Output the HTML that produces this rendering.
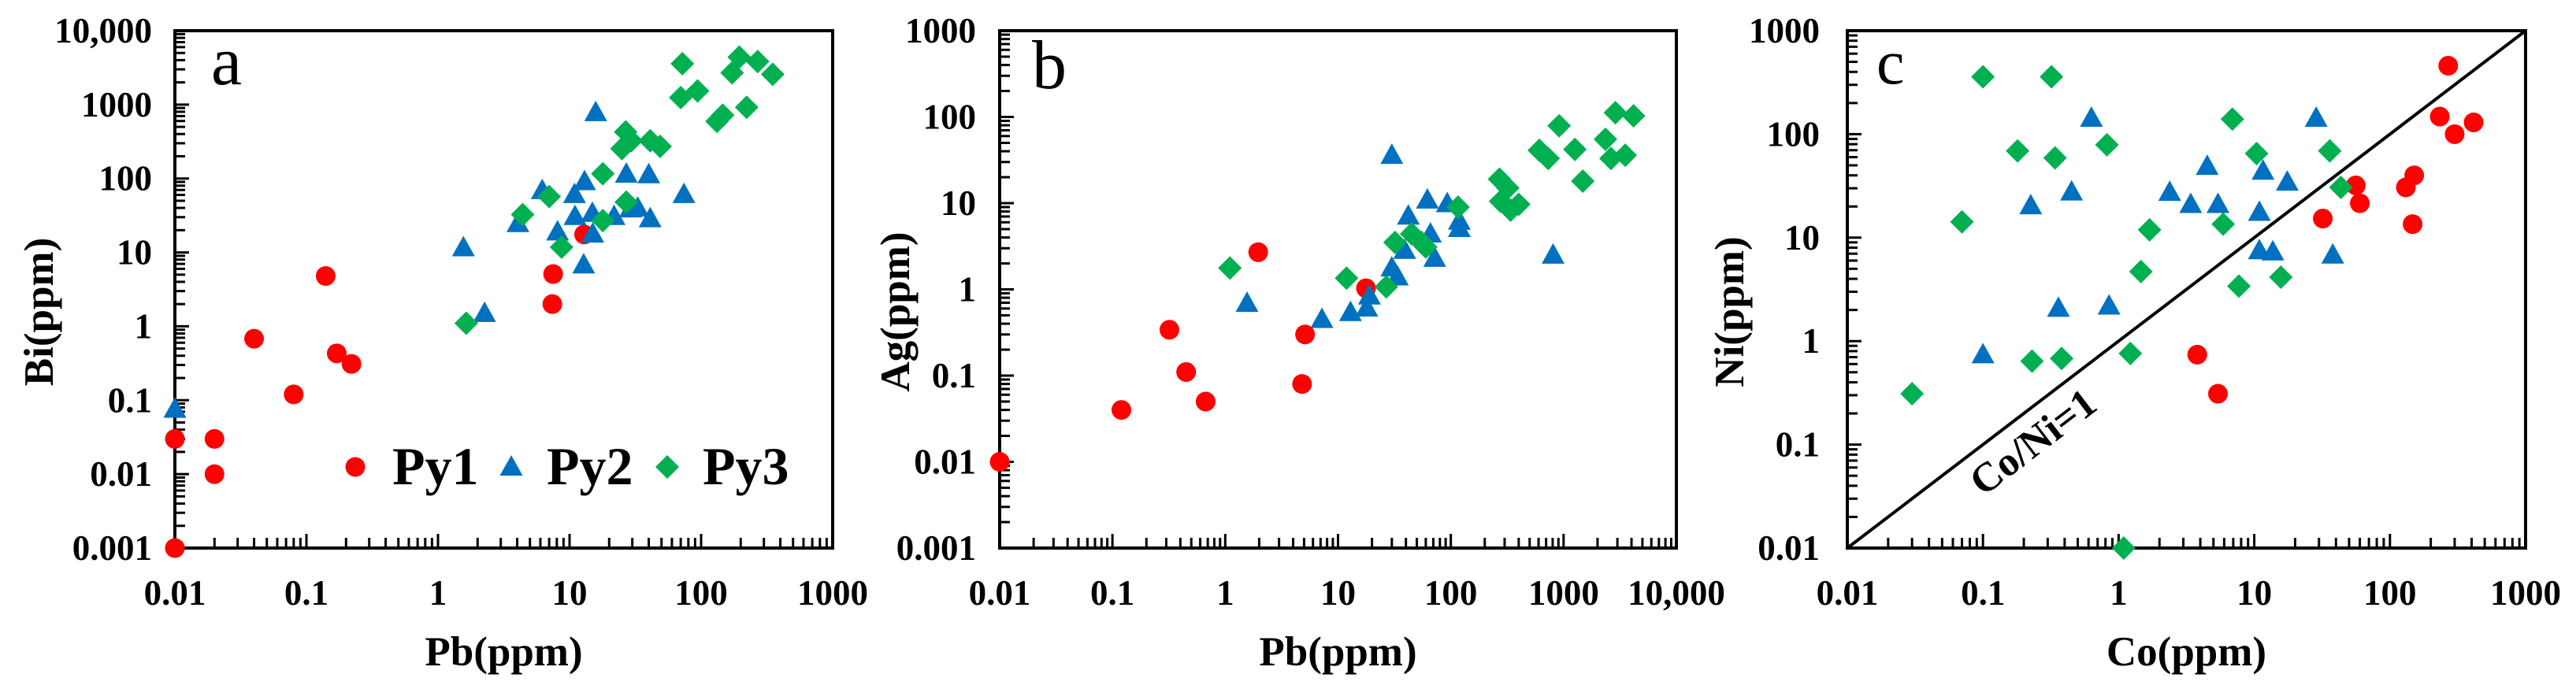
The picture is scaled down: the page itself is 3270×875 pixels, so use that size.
<!DOCTYPE html>
<html><head><meta charset="utf-8"><style>
html,body{margin:0;padding:0;background:#fff;}
svg{display:block;font-family:"Liberation Serif","Times New Roman","DejaVu Serif",serif;}
svg text{font-family:"Liberation Serif","Times New Roman","DejaVu Serif",serif !important;font-weight:bold;fill:#000;}
svg text.normal{font-weight:normal;}
</style></head><body>
<svg id="chart" width="3270" height="875" viewBox="0 0 3270 875" xmlns="http://www.w3.org/2000/svg" font-family="Liberation Serif, serif"></svg>
<script>
// ---------- Panel a: Pb vs Bi ----------
const aPy1Pb=[0.01,0.02,0.02,0.01,0.04,0.08,0.14,0.17,0.22,7.5,7.4,12.9];
const aPy1Bi=[0.03,0.03,0.01,0.001,0.68,0.12,4.8,0.43,0.31,5.1,2.0,17.5];
const aPy2Pb=[0.01,1.56,2.26,4.05,6.2,8.1,10.9,11,13,12.8,14.9,15,15.8,21.8,27,29,33,40,41,74];
const aPy2Bi=[0.076,11.6,1.5,24.7,69,19,61,30.8,91,6.8,34,17.8,782,30.8,115,39,40,113,28.7,61];
const aPy3Pb=[1.64,4.4,7.0,8.7,17.9,17.9,25,26.7,29.4,27,41,48.8,72,70,94,132,146,172,195,222,269,350];
const aPy3Bi=[1.1,32.5,57,11.8,116,27,254,427,324,48,324,272,3580,1245,1530,594,720,2690,4400,920,3830,2570];
const aXTicks=["0.01","0.1","1","10","100","1000"];
const aYTicks=["0.001","0.01","0.1","1","10","100","1000","10,000"];
// ---------- Panel b: Pb vs Ag ----------
const bPy1Pb=[0.01,0.12,0.32,0.45,0.67,1.96,4.8,5.1,17.7];
const bPy1Ag=[0.01,0.04,0.34,0.11,0.05,2.7,0.08,0.3,1.03];
const bPy2Pb=[1.56,7.2,12.9,18,19,30,30,33.6,39,42,62,66,72,93,119,119,807];
const bPy2Ag=[0.69,0.45,0.54,0.61,0.84,36,1.78,1.4,2.85,7.1,10.9,4.4,2.3,9.9,6.2,5.1,2.5];
const bPy3Pb=[1.1,11.9,26.8,32,45,55,60,116,270,276,320,339,400,610,730,913,1260,1480,2350,2630,3520,2880,4170];
const bPy3Ag=[1.77,1.35,1.07,3.5,4.4,3.5,3.1,9.0,19,10.5,15,8.3,9.7,41,33,79,42,18,55,33,36,112,103];
const bXTicks=["0.01","0.1","1","10","100","1000","10,000"];
const bYTicks=["0.001","0.01","0.1","1","10","100","1000"];
// ---------- Panel c: Co vs Ni ----------
const cPy1Co=[269,233,300,414,56,60,32,131,151,147,3.8,5.4];
const cPy1Ni=[459,148,100,130,32,21.5,15.3,30.6,40,13.5,0.74,0.31];
const cPy2Co=[0.10,0.225,0.36,0.45,0.63,0.85,2.38,3.4,4.5,5.4,10.9,10.9,11.6,13.7,17.5,28.6,37.9];
const cPy2Ni=[0.74,20.4,2.08,27.7,143,2.19,27.5,21,49,21,17.6,7.5,44,7.3,34.5,143,6.8];
const cPy3Co=[0.03,0.07,0.1,0.18,0.23,0.32,0.34,0.38,0.82,1.09,1.22,1.46,1.69,5.9,6.9,7.7,10.4,15.7,36,43.5];
const cPy3Ni=[0.31,14.2,359,69,0.64,359,59,0.68,79,0.01,0.76,4.7,11.9,13.5,140,3.4,65,4.15,69,30.6];
const cXTicks=["0.01","0.1","1","10","100","1000"];
const cYTicks=["0.01","0.1","1","10","100","1000"];

const NS="http://www.w3.org/2000/svg";
const svg=document.getElementById('chart');
const FONT='"Liberation Serif","Times New Roman","DejaVu Serif",serif';
function mk(tag,attrs,parent){const e=document.createElementNS(NS,tag);for(const k in attrs)e.setAttribute(k,attrs[k]);if(tag==='text'){e.style.fontFamily=FONT;}(parent||svg).appendChild(e);return e;}
const RED="#ff0000",BLUE="#0070c0",GREEN="#00b050";

function circle(g,x,y){return mk('circle',{cx:x,cy:y,r:12.5,fill:RED},g);}
function tri(g,x,y){return mk('polygon',{points:`${x},${y-15} ${x-14.5},${y+11} ${x+14.5},${y+11}`,fill:BLUE},g);}
function dia(g,x,y){return mk('polygon',{points:`${x},${y-15} ${x+15},${y} ${x},${y+15} ${x-15},${y}`,fill:GREEN},g);}

function panel(p){
  const g=mk('g',{});
  
  
  const L=p.L,R=p.R,T=39,B=696;
  const nx=p.xTicks.length-1,ny=p.yTicks.length-1;
  const sx=v=>L+(Math.log10(v)-p.xmin)/nx*(R-L);
  const sy=v=>B-(Math.log10(v)-p.ymin)/ny*(B-T);
  const tg=mk('g',{stroke:'#000','stroke-width':3},g);
  
  
  for(let d=0;d<nx;d++){for(let m=1;m<=9;m++){if(m===1&&d===0)continue;const x=sx(Math.pow(10,p.xmin+d)*m);const len=m===1?18:13;mk('line',{x1:x,y1:B,x2:x,y2:B-len},tg);}}
  for(let d=0;d<ny;d++){for(let m=1;m<=9;m++){if(m===1&&d===0)continue;const y=sy(Math.pow(10,p.ymin+d)*m);const len=m===1?18:13;mk('line',{x1:L,y1:y,x2:L+len,y2:y},tg);}}
  const box=mk('rect',{x:L,y:T,width:R-L,height:B-T,fill:'none',stroke:'#000','stroke-width':4},g);
  
  
  p.xTicks.forEach((t,i)=>{const e=mk('text',{x:L+i*(R-L)/nx,y:768,'font-size':45,'text-anchor':'middle'},g);e.textContent=t;
    
    });
  p.yTicks.forEach((t,i)=>{const e=mk('text',{x:p.yLabX,y:B-i*(B-T)/ny+15,'font-size':45,'text-anchor':'end'},g);e.textContent=t;
    
    });
  const xt=mk('text',{x:(L+R)/2,y:845,'font-size':53,'text-anchor':'middle'},g);xt.textContent=p.xTitle;
  
  
  const yt=mk('text',{x:0,y:0,'font-size':53,'text-anchor':'middle',transform:`translate(${p.yTitX},396) rotate(-90)`},g);yt.textContent=p.yTitle;
  
  
  const pl=mk('text',{x:p.labX,y:p.labY,'font-size':p.labSize,'class':'normal'},g);pl.textContent=p.label;
  
  
  if(p.extra)p.extra(g,sx,sy);
  const series=[[p.s1x,p.s1y,circle,'py1-point'],[p.s2x,p.s2y,tri,'py2-point'],[p.s3x,p.s3y,dia,'py3-point']];
  series.forEach(([xs,ys,fn,nm])=>{xs.forEach((v,i)=>{const e=fn(g,sx(v),sy(ys[i]));
    
    });});
}

panel({name:'panel-a',L:222,R:1057,xmin:-2,ymin:-3,xTicks:aXTicks,yTicks:aYTicks,yLabX:193,xTitle:'Pb(ppm)',yTitle:'Bi(ppm)',yTitX:67,
  label:'a',labX:268,labY:107,labSize:88,s1x:aPy1Pb,s1y:aPy1Bi,s2x:aPy2Pb,s2y:aPy2Bi,s3x:aPy3Pb,s3y:aPy3Bi});
panel({name:'panel-b',L:1269,R:2128,xmin:-2,ymin:-3,xTicks:bXTicks,yTicks:bYTicks,yLabX:1239,xTitle:'Pb(ppm)',yTitle:'Ag(ppm)',yTitX:1154,
  label:'b',labX:1310,labY:112,labSize:88,s1x:bPy1Pb,s1y:bPy1Ag,s2x:bPy2Pb,s2y:bPy2Ag,s3x:bPy3Pb,s3y:bPy3Ag});
panel({name:'panel-c',L:2345,R:3206,xmin:-2,ymin:-2,xTicks:cXTicks,yTicks:cYTicks,yLabX:2310,xTitle:'Co(ppm)',yTitle:'Ni(ppm)',yTitX:2213,
  label:'c',labX:2382,labY:106,labSize:80,s1x:cPy1Co,s1y:cPy1Ni,s2x:cPy2Co,s2y:cPy2Ni,s3x:cPy3Co,s3y:cPy3Ni,
  extra:(g,sx,sy)=>{
    const ln=mk('line',{x1:sx(0.01),y1:sy(0.01),x2:sx(1000),y2:sy(1000),stroke:'#000','stroke-width':4},g);
    
    
    const ang=Math.atan2(sy(0.01)-sy(1000),sx(1000)-sx(0.01))*180/Math.PI;
    const t=mk('text',{x:0,y:0,'font-size':52,'text-anchor':'middle',transform:`translate(2591,575) rotate(${-ang})`},g);t.textContent='Co/Ni=1';
    
    
  }});

const lg=mk('g',{});


const legItems=[[circle,451,'Py1',498,'legend-py1'],[tri,649,'Py2',694,'legend-py2'],[dia,847,'Py3',892,'legend-py3']];
legItems.forEach(([fn,mx,lab,tx,nm])=>{
  const m=fn(lg,mx,593);
  
  
  const t=mk('text',{x:tx,y:615,'font-size':68},lg);t.textContent=lab;
  
  
});
</script>
</body></html>
